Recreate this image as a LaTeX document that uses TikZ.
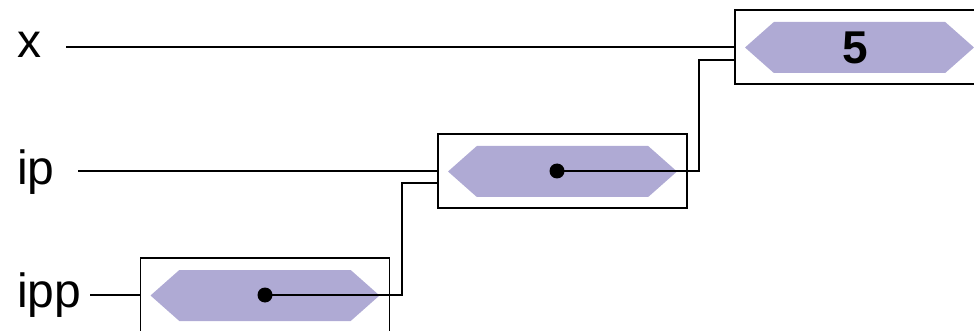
\documentclass[tikz,border=0pt]{standalone}
\usepackage{fontspec}
\setmainfont{Liberation Sans}
\usepackage{xcolor}
\usepackage{tikz}
\usetikzlibrary{shapes.symbols}
\definecolor{cellfill}{RGB}{175,170,212}
\tikzset{
    cellbox/.style={draw=black, line width=1.8pt, minimum width=249pt, minimum height=74pt, inner sep=0pt},
    cellval/.style={signal, signal to=west and east, signal pointer angle=83, fill=cellfill, draw=none, minimum width=229pt, minimum height=51pt, inner sep=0pt},
    varname/.style={anchor=base west, inner sep=0pt, font=\fontsize{48}{56}\selectfont},
    ptrdot/.style={circle, fill=black, inner sep=0pt, minimum size=15pt},
    wire/.style={line width=1.6pt}
}
\begin{document}
\begin{tikzpicture}[x=1pt, y=-1pt]
    \useasboundingbox (0,0) rectangle (974,331);
    \clip (0,0) rectangle (974,331);
    % cells
    \node[cellbox] (xbox) at (859.5,47) {};
    \node[cellval] (xval) at (859.5,47.5) {};
    \node[font=\fontsize{46}{54}\selectfont\bfseries] (five) at (855,48) {5};
    \node[cellbox] (ipbox) at (562.5,171) {};
    \node[cellval] (ipval) at (562.5,171.5) {};
    \node[ptrdot] (ipdot) at (557,171) {};
    \node[cellbox] (ippbox) at (265,295) {};
    \node[cellval] (ippval) at (265,295.5) {};
    \node[ptrdot] (ippdot) at (265,295) {};
    % names
    \node[varname] (xname) at (17,58) {x};
    \node[varname] (ipname) at (17,185) {ip};
    \node[varname] (ippname) at (17,307) {ipp};
    \coordinate (xstart) at (66,47);
    \coordinate (ipstart) at (78,171);
    \coordinate (ippstart) at (90,295);
    % wires
    \draw[wire] (xstart) -- (xbox.west);
    \draw[wire] (ipstart) -- (ipbox.west);
    \draw[wire] (ippstart) -- (ippbox.west);
    \draw[wire] (ipdot.center) -- (699,171) -- (699,60) -- (xbox.west |- 0,60);
    \draw[wire] (ippdot.center) -- (402,295) -- (402,183) -- (ipbox.west |- 0,183);
\end{tikzpicture}
\end{document}
